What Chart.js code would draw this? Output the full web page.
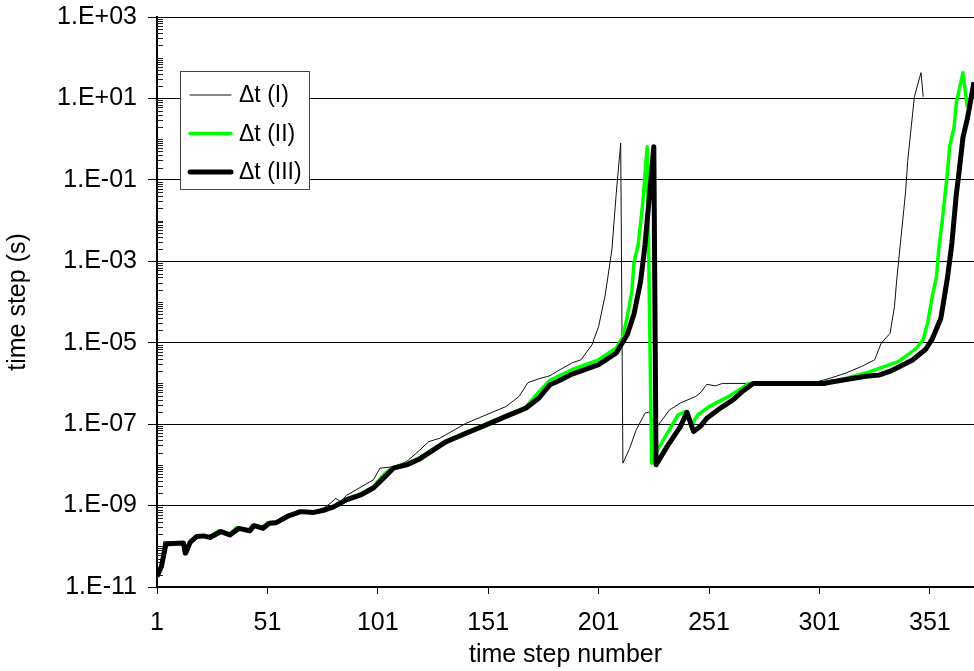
<!DOCTYPE html>
<html>
<head>
<meta charset="utf-8">
<title>time step</title>
<script src="https://cdn.jsdelivr.net/npm/chart.js@4.4.1/dist/chart.umd.min.js"></script>
<style>
  html, body { margin: 0; padding: 0; background: #fff; }
  #wrap { width: 974px; height: 671px; }
</style>
</head>
<body>
<div id="wrap"><canvas id="dtChart" width="974" height="671"></canvas></div>
<script>
// axis ticks
const xTicks = [1, 51, 101, 151, 201, 251, 301, 351];
const yTicks = [1e-11, 1e-9, 1e-7, 1e-5, 1e-3, 1e-1, 1e1, 1e3];

// dt (I)
const stepsI = [1, 3, 4, 12, 13, 15, 18, 24, 29, 33, 37, 42, 44, 48, 51, 55, 60, 66, 72, 77,
  80, 82, 84, 87, 99, 102, 108, 114, 120, 124, 129, 141, 159, 165, 169, 174, 179, 183, 189, 193,
  198, 201, 204, 207, 209, 211, 212, 215, 218, 222, 224, 227, 233, 238, 245, 247, 250, 254, 257, 294,
  300, 306, 313, 320, 326, 329, 333, 335, 336, 338, 340, 341, 342, 344, 347, 348];
const dtI = [1.8e-11, 2.5e-11, 1.3e-10, 1.3e-10, 6.2e-11, 7e-11, 1.8e-10, 1.8e-10, 2.5e-10, 2e-10,
  3e-10, 2.5e-10, 3.5e-10, 3e-10, 4e-10, 4.2e-10, 5.6e-10, 7.6e-10, 7e-10, 9e-10,
  1.2e-9, 1.5e-9, 1.26e-9, 1.8e-9, 4.3e-9, 8.3e-9, 9e-9, 1.2e-8, 2.3e-8, 3.7e-8,
  4.5e-8, 1.05e-7, 2.7e-7, 4.8e-7, 1.05e-6, 1.3e-6, 1.55e-6, 2.1e-6, 3.2e-6, 3.8e-6,
  8.9e-6, 2.5e-5, 1.5e-4, 1.9e-3, 4.8e-2, 0.8, 1.1e-8, 2.5e-8, 7.2e-8, 1.85e-7,
  2e-7, 8e-8, 2.2e-7, 3.3e-7, 4.8e-7, 5.8e-7, 9.5e-7, 8.7e-7, 1e-6, 1e-6,
  1.1e-6, 1.35e-6, 1.8e-6, 2.6e-6, 3.8e-6, 9.8e-6, 1.7e-5, 7.8e-5, 3.5e-4, 4.1e-3,
  5e-2, 0.3, 1, 11, 43, 11];

// dt (II)
const stepsII = [1, 3, 5, 6, 13, 14, 16, 19, 22, 25, 29, 34, 37, 43, 45, 49, 51, 55, 60, 66,
  72, 77, 81, 87, 93, 99, 104, 108, 114, 120, 126, 132, 141, 150, 159, 168, 174, 179, 189, 201,
  209, 212, 214, 216, 217, 219, 221, 223, 225, 228, 237, 240, 243, 246, 251, 260, 265, 269, 300, 310,
  322, 337, 345, 348, 350, 352, 354, 355, 357, 359, 360, 362, 363, 366, 368];
const dtII = [1.8e-11, 3.4e-11, 1.15e-10, 1.2e-10, 1.2e-10, 7e-11, 1.3e-10, 1.8e-10, 1.8e-10, 1.7e-10,
  2.4e-10, 1.9e-10, 2.9e-10, 2.4e-10, 3.3e-10, 2.8e-10, 3.8e-10, 3.9e-10, 5.5e-10, 7.3e-10,
  7e-10, 8e-10, 9.6e-10, 1.45e-9, 1.9e-9, 2.9e-9, 6e-9, 8.6e-9, 1.05e-8, 1.5e-8,
  2.4e-8, 3.9e-8, 6.3e-8, 1e-7, 1.6e-7, 2.6e-7, 6.3e-7, 1.2e-6, 2.2e-6, 3.8e-6,
  7.4e-6, 1.4e-5, 4.5e-5, 1.7e-4, 9e-4, 2.8e-3, 2.7e-2, 0.65, 1.1e-8, 2.5e-8,
  1.7e-7, 2e-7, 9.5e-8, 1.7e-7, 2.7e-7, 4.8e-7, 7.2e-7, 1e-6, 1e-6, 1.2e-6,
  1.8e-6, 3.5e-6, 7.4e-6, 1.2e-5, 3e-5, 1.3e-4, 4e-4, 1.9e-3, 1.5e-2, 0.16,
  0.66, 2, 7.8, 43, 5.9];

// dt (III)
const stepsIII = [1, 3, 5, 6, 13, 14, 16, 19, 22, 25, 30, 34, 38, 43, 45, 49, 52, 55, 60, 66,
  72, 77, 81, 87, 93, 99, 105, 108, 114, 120, 126, 132, 141, 150, 159, 168, 174, 179, 183, 189,
  201, 209, 214, 217, 220, 222, 224, 226, 227, 232, 238, 241, 244, 247, 250, 256, 262, 266, 271, 303,
  307, 322, 328, 334, 343, 349, 352, 356, 359, 361, 363, 364, 366, 368, 371];
const dtIII = [1.8e-11, 3.2e-11, 1.1e-10, 1.15e-10, 1.2e-10, 6.8e-11, 1.25e-10, 1.75e-10, 1.8e-10, 1.65e-10,
  2.3e-10, 1.9e-10, 2.75e-10, 2.4e-10, 3.2e-10, 2.75e-10, 3.7e-10, 3.8e-10, 5.4e-10, 7.1e-10,
  6.8e-10, 7.8e-10, 9.3e-10, 1.4e-9, 1.8e-9, 2.7e-9, 5.6e-9, 8.3e-9, 1.0e-8, 1.4e-8,
  2.3e-8, 3.7e-8, 6.0e-8, 9.5e-8, 1.55e-7, 2.45e-7, 4.4e-7, 9.3e-7, 1.17e-6, 1.7e-6,
  2.9e-6, 5.6e-6, 1.6e-5, 5e-5, 3.2e-4, 2.5e-3, 4e-2, 0.65, 1e-8, 2.8e-8,
  8.7e-8, 1.95e-7, 6.6e-8, 8.7e-8, 1.4e-7, 2.45e-7, 4e-7, 6.3e-7, 1e-6, 1e-6,
  1.1e-6, 1.5e-6, 1.6e-6, 2.1e-6, 3.7e-6, 6.8e-6, 1.2e-5, 4e-5, 4e-4, 2.8e-3,
  4.5e-2, 0.12, 1.1, 3.2, 25];

const FONT = "'Liberation Sans', Arial, sans-serif";

function toPoints(steps, values) {
  return steps.map(function (s, i) { return { x: s, y: values[i] }; });
}

// short log ticks on the inside of the y axis
const minorTicks = {
  id: "minorTicks",
  beforeDatasetsDraw: function (chart) {
    const y = chart.scales.y;
    const left = chart.chartArea.left;
    const c = chart.ctx;
    c.save();
    c.strokeStyle = "#222";
    c.lineWidth = 1;
    c.beginPath();
    for (let e = -11; e < 3; e++) {
      for (let k = 1; k < 10; k++) {
        if (k === 1 && (e + 11) % 2 === 0) continue;
        const py = Math.round(y.getPixelForValue(k * Math.pow(10, e))) + 0.5;
        c.moveTo(left, py);
        c.lineTo(left + 6, py);
      }
    }
    c.stroke();
    c.restore();
  }
};

// boxed legend in the upper left of the plot
const boxLegend = {
  id: "boxLegend",
  afterDraw: function (chart) {
    const c = chart.ctx;
    c.save();
    c.fillStyle = "#fff";
    c.strokeStyle = "#444";
    c.lineWidth = 1;
    c.fillRect(180.5, 71.5, 129, 118);
    c.strokeRect(180.5, 71.5, 129, 118);
    c.font = "23px " + FONT;
    c.textBaseline = "middle";
    chart.data.datasets.forEach(function (ds, i) {
      const ly = 95 + i * 38.5;
      c.beginPath();
      c.strokeStyle = ds.borderColor;
      c.lineWidth = ds.borderWidth;
      c.lineCap = "round";
      c.moveTo(190, ly);
      c.lineTo(231, ly);
      c.stroke();
      c.fillStyle = "#000";
      c.fillText(ds.label, 239, ly + 1);
    });
    c.restore();
  }
};

document.addEventListener("DOMContentLoaded", function () {

  const ctx = document.getElementById("dtChart");
  if (!ctx) return;

  Chart.defaults.font.family = FONT;
  Chart.defaults.font.size = 25;
  Chart.defaults.color = "#000";

  new Chart(ctx, {
    type: "line",
    data: {
      datasets: [
        {
          label: "\u0394t (I)",
          data: toPoints(stepsI, dtI),
          borderColor: "#111",
          borderWidth: 1,
          order: 2
        },
        {
          label: "\u0394t (II)",
          data: toPoints(stepsII, dtII),
          borderColor: "#00ff00",
          borderWidth: 3.5,
          order: 1
        },
        {
          label: "\u0394t (III)",
          data: toPoints(stepsIII, dtIII),
          borderColor: "#000",
          borderWidth: 5,
          order: 0
        }
      ]
    },
    options: {
      responsive: false,
      animation: false,
      devicePixelRatio: 1,
      layout: { padding: { top: 17, right: 0, bottom: 0, left: 0 } },
      elements: {
        point: { radius: 0 },
        line: { tension: 0, borderJoinStyle: "round", fill: false }
      },
      scales: {
        x: {
          type: "linear",
          min: 1,
          max: 371,
          afterBuildTicks: function (scale) {
            scale.ticks = xTicks.map(function (v) { return { value: v }; });
          },
          afterFit: function (scale) {
            scale.height = 84;
            scale.paddingLeft = 0;
            scale.paddingRight = 0;
          },
          grid: { drawOnChartArea: false, drawTicks: true, tickLength: 7, color: "#000" },
          border: { color: "#000", width: 2 },
          ticks: { padding: 14, maxRotation: 0, autoSkip: false },
          title: {
            display: true,
            text: "time step number",
            padding: { top: 0, bottom: 1 }
          }
        },
        y: {
          type: "logarithmic",
          min: 1e-11,
          max: 1e3,
          afterBuildTicks: function (scale) {
            scale.ticks = yTicks.map(function (v) { return { value: v }; });
          },
          afterFit: function (scale) {
            scale.width = 157;
            scale.paddingTop = 0;
            scale.paddingBottom = 0;
          },
          grid: { color: "#000", lineWidth: 1, tickLength: 9 },
          border: { color: "#000", width: 2 },
          ticks: {
            padding: 11,
            autoSkip: false,
            callback: function (value) {
              const e = Math.round(Math.log10(value));
              return "1.E" + (e < 0 ? "-" : "+") + String(Math.abs(e)).padStart(2, "0");
            }
          },
          title: {
            display: true,
            text: "time step (s)",
            padding: { top: 3, bottom: 0 }
          }
        }
      },
      plugins: {
        legend: { display: false },
        tooltip: { enabled: false }
      }
    },
    plugins: [minorTicks, boxLegend]
  });

});
</script>
</body>
</html>
